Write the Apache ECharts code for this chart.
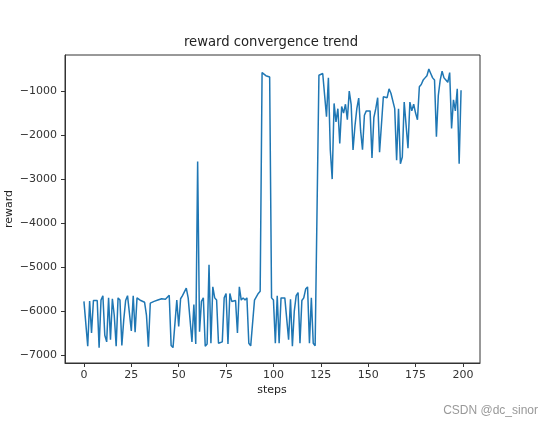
<!DOCTYPE html>
<html>
<head>
<meta charset="utf-8">
<script src="https://cdn.jsdelivr.net/npm/echarts@6/dist/echarts.min.js"></script>
<style>
html,body{margin:0;padding:0;background:#fff;}
#chart{width:554px;height:427px;}
</style>
</head>
<body>
<div id="chart"></div>
<script>
const titleText = "reward convergence trend";
const xLabel = "steps";
const yLabel = "reward";
const xTicks = [0, 25, 50, 75, 100, 125, 150, 175, 200];
const yTicks = [-7000, -6000, -5000, -4000, -3000, -2000, -1000];
const rewards = [
  -5780, -5780, -6800, -5770, -6500, -5760, -5740, -5760, -6830, -5750,
  -5650, -6550, -6700, -5700, -6650, -5720, -6100, -6800, -5700, -5750,
  -6780, -6200, -5760, -5650, -5620, -6450, -5650, -6480, -5700, -5740,
  -5760, -5780, -5800, -6100, -6810, -5820, -5800, -5780, -5760, -5750,
  -5760, -5720, -5700, -5730, -5690, -5640, -6780, -6830, -6800, -5750,
  -6350, -5720, -5650, -5650, -5480, -5700, -5700, -6700, -5850, -6750,
  -2600, -6470, -5780, -5700, -6800, -6750, -4950, -6730, -5450, -5700,
  -5750, -6730, -6760, -6700, -5700, -5600, -6750, -5600, -5780, -5750,
  -5760, -6500, -5450, -5750, -5700, -5750, -5700, -6730, -6790, -6760,
  -5750, -5720, -5600, -5550, -580, -620, -650, -660, -680, -5700,
  -5750, -6730, -5650, -6730, -5700, -5720, -5700, -5700, -6650, -5730,
  -6800, -6000, -5650, -5580, -6730, -5760, -5700, -5500, -5450, -6730,
  -5700, -6730, -6790, -6790, -640, -640, -600, -620, -1580, -700,
  -2340, -3000, -1280, -1700, -1400, -2190, -1350, -1500, -1300, -1650,
  -1000, -1300, -2340, -1800, -1400, -1160, -1900, -2330, -1550, -1450,
  -1450, -1450, -2520, -1600, -1400, -1150, -2390, -2420, -1130, -1100,
  -1150, -950, -1050, -1050, -1400, -2570, -1400, -2650, -2500, -1250,
  -1250, -2300, -1250, -1450, -1300, -1500, -1650, -900, -850, -750,
  -700, -650, -500, -600, -700, -750, -2040, -1100, -750, -550,
  -700, -750, -800, -580, -1850, -1200, -1450, -950, -2650, -980
];

const steps = rewards.map((_, i) => i);
const seriesData = steps.map((s, i) => [s, rewards[i]]);

const fmtMinus = v => String(v).replace('-', '\u2212');
const font = 'DejaVu Sans';

const chart = echarts.init(document.getElementById('chart'), null, {renderer: 'canvas'});
chart.setOption({
  animation: false,
  backgroundColor: '#ffffff',
  grid: {
    left: 65, right: 74, top: 55, bottom: 64,
    show: true, borderColor: '#333', borderWidth: 1, backgroundColor: 'transparent'
  },
  xAxis: {
    type: 'value',
    min: -10, max: 209,
    splitLine: {show: false},
    axisLine: {show: true, onZero: false, lineStyle: {color: '#333', width: 1}},
    axisTick: {show: true, inside: false, length: 4, lineStyle: {color: '#333'}, customValues: xTicks},
    axisLabel: {
      customValues: xTicks, margin: 7, color: '#333', fontSize: 11, fontFamily: font,
      formatter: v => fmtMinus(v)
    }
  },
  yAxis: {
    type: 'value',
    min: -7180, max: -180,
    splitLine: {show: false},
    axisLine: {show: true, onZero: false, lineStyle: {color: '#333', width: 1}},
    axisTick: {show: true, inside: false, length: 4, lineStyle: {color: '#333'}, customValues: yTicks},
    axisLabel: {
      customValues: yTicks, margin: 8, color: '#333', fontSize: 11, fontFamily: font,
      formatter: v => fmtMinus(v)
    }
  },
  series: [{
    type: 'line',
    data: seriesData,
    showSymbol: false,
    symbol: 'none',
    lineStyle: {color: '#1f77b4', width: 1.5},
    silent: true
  }],
  graphic: [
    {type: 'text', x: 271, y: 43, style: {text: titleText, font: '13.2px "DejaVu Sans"', fill: '#222', textAlign: 'center', textVerticalAlign: 'middle'}},
    {type: 'text', x: 272, y: 390, style: {text: xLabel, font: '11px "DejaVu Sans"', fill: '#222', textAlign: 'center', textVerticalAlign: 'middle'}},
    {type: 'text', x: 9, y: 209, rotation: Math.PI / 2, style: {text: yLabel, font: '11px "DejaVu Sans"', fill: '#222', textAlign: 'center', textVerticalAlign: 'middle'}},
    {type: 'text', x: 538, y: 411, style: {text: 'CSDN @dc_sinor', font: '12px "Liberation Sans"', fill: '#999', textAlign: 'right', textVerticalAlign: 'middle'}}
  ]
});
</script>
</body>
</html>
